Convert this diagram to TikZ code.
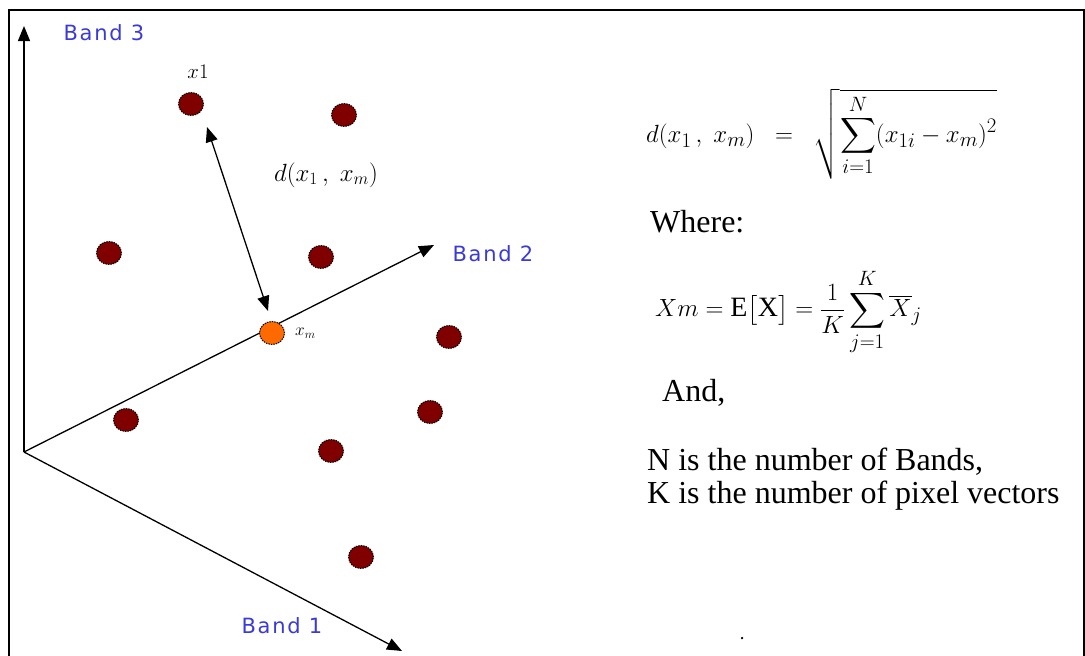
\documentclass[tikz,border=0pt]{standalone}
\usepackage{amsmath}
\usepackage{fontspec}
\setmainfont{Liberation Serif}
\newfontfamily\bandfont[LetterSpace=8]{DejaVu Sans}
\usetikzlibrary{arrows.meta,shapes.geometric}
\definecolor{banddot}{HTML}{800000}
\definecolor{meandot}{HTML}{FF6A00}
\definecolor{bandblue}{HTML}{3A3AD8}
\tikzset{
  axis/.style={line width=1.3pt, -{Triangle[length=15pt,width=12pt]}},
  pix/.style={ellipse, draw=black, line width=1pt, dash pattern=on 1.5pt off 1pt, fill=banddot, minimum width=25pt, minimum height=23pt, inner sep=0pt},
  meanpix/.style={pix, fill=meandot},
  bandlbl/.style={text=bandblue, font=\bandfont\fontsize{21}{24}\selectfont, inner sep=0pt},
  txt/.style={font=\fontsize{32}{35}\selectfont, inner sep=0pt, anchor=west},
  mth/.style={font=\fontsize{28}{32}\selectfont, inner sep=0pt, anchor=west},
}
\begin{document}
\begin{tikzpicture}[x=1pt,y=-1pt]
\useasboundingbox (0,0) rectangle (1085,656);
% frame (no bottom edge)
\draw[line width=2.5pt] (9,656) -- (9,10) -- (1084,10) -- (1084,656);
% axes
\coordinate (O) at (24,452);
\coordinate (b3) at (24,26);
\coordinate (b2) at (434,245);
\coordinate (b1) at (402,651);
\draw[axis] (O) -- (b3);
\draw[axis] (O) -- (b2);
\draw[axis] (O) -- (b1);
\node[bandlbl] (lb3) at (104,33) {Band 3};
\node[bandlbl] (lb2) at (493,254) {Band 2};
\node[bandlbl] (lb1) at (282,626) {Band 1};
% pixel vectors
\node[pix] (x1) at (191,104) {};
\node[pix] (p2) at (344,115) {};
\node[pix] (p3) at (109,253) {};
\node[pix] (p4) at (321,257) {};
\node[pix] (p5) at (449,337) {};
\node[pix] (p6) at (126,420) {};
\node[pix] (p7) at (430,412) {};
\node[pix] (p8) at (331,451) {};
\node[pix] (p9) at (361,557) {};
\node[meanpix] (xm) at (272,333) {};
\node[font=\fontsize{22}{25}\selectfont, inner sep=0pt] (lx1) at (198,72) {$x1$};
\node[font=\fontsize{18}{21}\selectfont, inner sep=0pt, anchor=west] (lxm) at (295,333) {$x_m$};
% distance arrow
\coordinate (dA) at (207,127);
\coordinate (dB) at (268,311);
\draw[line width=1.3pt, {Triangle[length=15pt,width=12pt]}-{Triangle[length=15pt,width=12pt]}] (dA) -- (dB);
\node[font=\fontsize{26}{29}\selectfont, inner sep=0pt] (ld) at (326,175) {$d(x_1\,,\;x_m)$};
% formulas and text
\node[mth] (f1) at (646,134) {$d(x_1\,,\;x_m)\;\;=\;\;\sqrt{\displaystyle\sum_{i=1}^{N}(x_{1i}-x_m)^2}$};
\node[txt] (where) at (650,222) {Where:};
\node[mth] (f2) at (655,312) {$Xm=\mathrm{E}\bigl[\mathrm{X}\bigr]=\dfrac{1}{K}\displaystyle\sum_{j=1}^{K}\overline{X}_j$};
\node[txt] (and) at (662,393) {And,};
\node[txt] (nl) at (647,462) {N is the number of Bands,};
\node[txt] (kl) at (647,496) {K is the number of pixel vectors};
\node[circle, fill=black, inner sep=0pt, minimum size=2.5pt] (spk) at (742,638) {};
\end{tikzpicture}
\end{document}
